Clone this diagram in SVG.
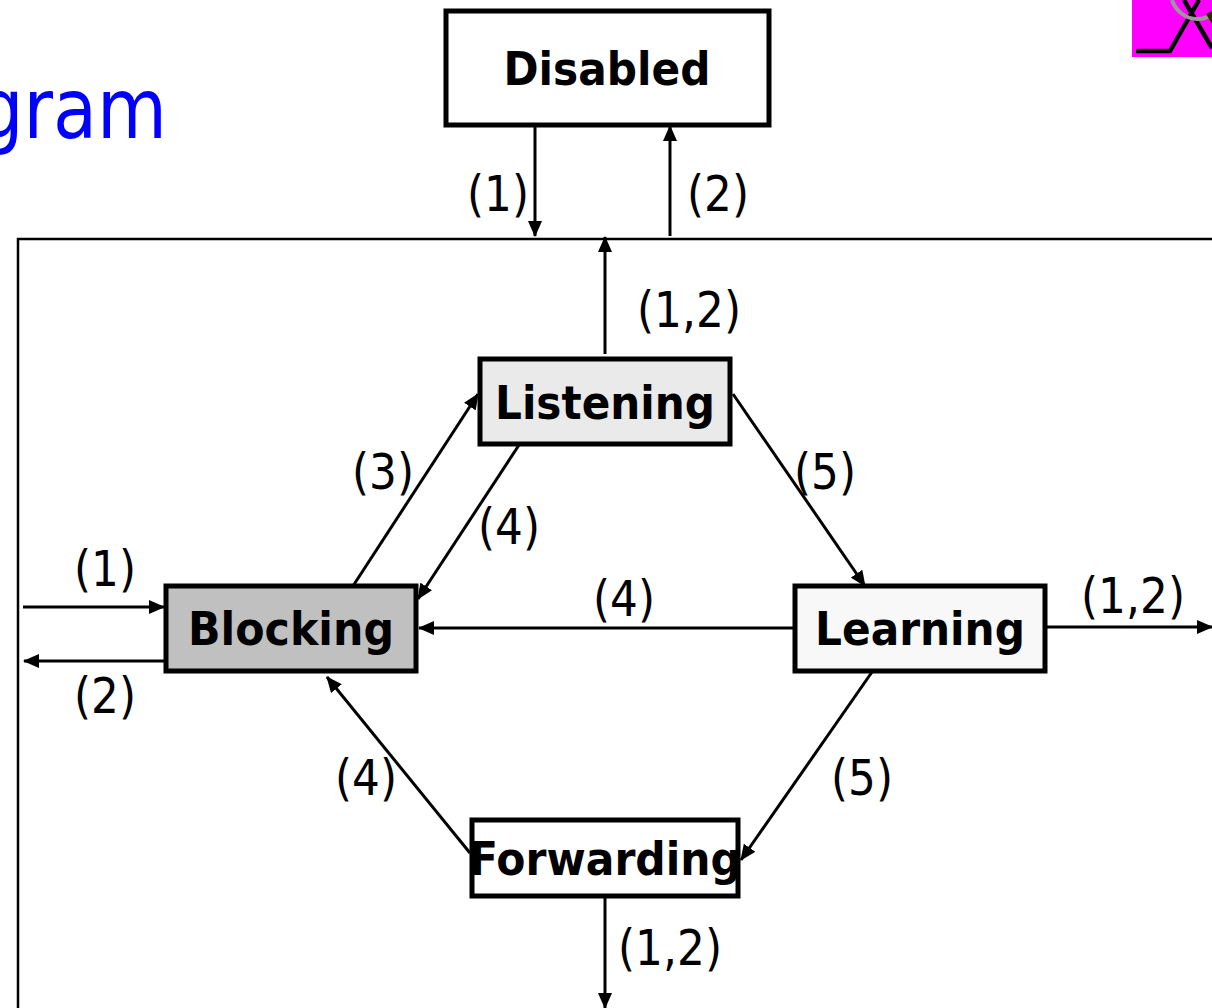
<svg xmlns="http://www.w3.org/2000/svg" width="1212" height="1008" viewBox="0 0 1212 1008">
<defs>
<style>
text{font-family:"DejaVu Sans","Liberation Sans",sans-serif;fill:#000}
.n{font-weight:700;font-size:47px;text-anchor:middle}
.l{font-size:50px;text-anchor:middle}
.b{stroke:#000;stroke-width:5}
.c{stroke:#000;stroke-width:3;fill:none;marker-end:url(#a)}
</style>
<marker id="a" markerUnits="userSpaceOnUse" markerWidth="16" markerHeight="14" refX="15" refY="7" orient="auto"><path d="M0 0L16 7L0 14z" fill="#000"/></marker>
</defs>
<rect width="1212" height="1008" fill="#fff"/>
<text x="167" y="138" text-anchor="end" textLength="189" lengthAdjust="spacingAndGlyphs" style="font-size:84px;fill:#00f">gram</text>
<g id="icon">
<rect x="1132" y="0" width="80" height="57" fill="#f0f"/>
<path d="M1136 51H1170L1199 0M1184 0L1212 48" fill="none" stroke="#000" stroke-width="4.5"/>
<path d="M1172 0C1176 12 1187 19 1197 19C1204 19 1209 17 1212 14" fill="none" stroke="#999" stroke-width="4"/>
<path d="M1206 14L1212 11V24z" fill="#3a2208"/>
</g>
<path d="M1212 239H18V1008" fill="none" stroke="#000" stroke-width="2.5"/>
<g id="connectors">
<path class="c" d="M535 126V236"/>
<path class="c" d="M670 236V126"/>
<path class="c" d="M605 354V237"/>
<path class="c" d="M353 586L478 394"/>
<path class="c" d="M519 445L418 599"/>
<path class="c" d="M733 394L865 586"/>
<path class="c" d="M795 628H419"/>
<path class="c" d="M1046 627H1212"/>
<path class="c" d="M23 607H164"/>
<path class="c" d="M166 661H24"/>
<path class="c" d="M470 853L327 677"/>
<path class="c" d="M872 672L741 860"/>
<path class="c" d="M605 893V1008"/>
</g>
<g id="disabled"><rect class="b" x="446" y="11" width="323" height="114" fill="#fff"/><text class="n" x="607" y="85" textLength="207" lengthAdjust="spacingAndGlyphs">Disabled</text></g>
<g id="listening"><rect class="b" x="480" y="359" width="250" height="85" fill="#eaeaea"/><text class="n" x="605" y="419" textLength="220" lengthAdjust="spacingAndGlyphs">Listening</text></g>
<g id="blocking"><rect class="b" x="166" y="586" width="250" height="85" fill="#c0c0c0"/><text class="n" x="291" y="645" textLength="206" lengthAdjust="spacingAndGlyphs">Blocking</text></g>
<g id="learning"><rect class="b" x="795" y="586" width="250" height="85" fill="#f8f8f8"/><text class="n" x="920" y="645" textLength="210" lengthAdjust="spacingAndGlyphs">Learning</text></g>
<g id="forwarding"><rect class="b" x="472" y="820" width="266" height="76" fill="#fff"/><text class="n" x="605" y="875" textLength="272" lengthAdjust="spacingAndGlyphs">Forwarding</text></g>
<g id="labels">
<text class="l" x="498" y="211" textLength="62" lengthAdjust="spacingAndGlyphs">(1)</text>
<text class="l" x="718" y="211" textLength="62" lengthAdjust="spacingAndGlyphs">(2)</text>
<text class="l" x="689" y="327" textLength="104" lengthAdjust="spacingAndGlyphs">(1,2)</text>
<text class="l" x="383" y="489" textLength="62" lengthAdjust="spacingAndGlyphs">(3)</text>
<text class="l" x="509" y="544" textLength="62" lengthAdjust="spacingAndGlyphs">(4)</text>
<text class="l" x="825" y="489" textLength="62" lengthAdjust="spacingAndGlyphs">(5)</text>
<text class="l" x="105" y="586" textLength="62" lengthAdjust="spacingAndGlyphs">(1)</text>
<text class="l" x="105" y="713" textLength="62" lengthAdjust="spacingAndGlyphs">(2)</text>
<text class="l" x="624" y="616" textLength="62" lengthAdjust="spacingAndGlyphs">(4)</text>
<text class="l" x="1133" y="613" textLength="104" lengthAdjust="spacingAndGlyphs">(1,2)</text>
<text class="l" x="366" y="795" textLength="62" lengthAdjust="spacingAndGlyphs">(4)</text>
<text class="l" x="862" y="795" textLength="62" lengthAdjust="spacingAndGlyphs">(5)</text>
<text class="l" x="670" y="965" textLength="104" lengthAdjust="spacingAndGlyphs">(1,2)</text>
</g>
</svg>
